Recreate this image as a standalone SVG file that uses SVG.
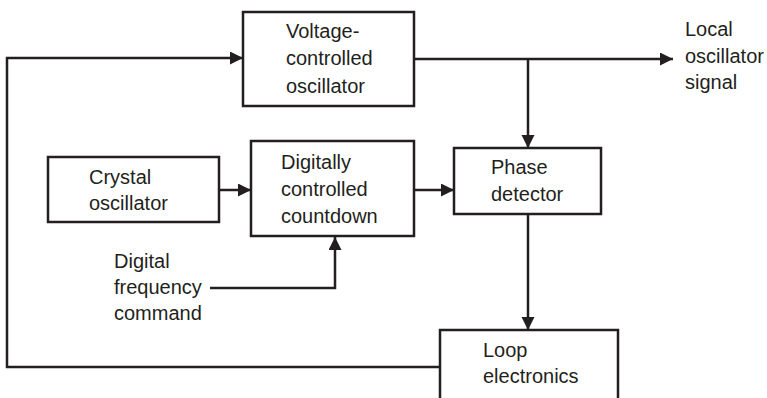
<svg xmlns="http://www.w3.org/2000/svg" width="767" height="398" viewBox="0 0 767 398">
<style>
.box{fill:#fff;stroke:#231f20;stroke-width:2.5}
.ln{fill:none;stroke:#231f20;stroke-width:2.5}
text{font-family:"Liberation Sans",Arial,sans-serif;font-size:20px;fill:#231f20}
</style>
<defs>
<marker id="ah" markerUnits="userSpaceOnUse" markerWidth="14" markerHeight="14" refX="13" refY="6.5" orient="auto">
<path d="M0,0 L13,6.5 L0,13 z" fill="#231f20"/>
</marker>
</defs>
<rect width="767" height="398" fill="#fff"/>
<g id="connectors">
<path class="ln" d="M440,367 H7 V58 H243" marker-end="url(#ah)"/>
<path class="ln" d="M414,59 H673" marker-end="url(#ah)"/>
<path class="ln" d="M528,59 V148" marker-end="url(#ah)"/>
<path class="ln" d="M219,190 H251" marker-end="url(#ah)"/>
<path class="ln" d="M414,190 H454" marker-end="url(#ah)"/>
<path class="ln" d="M210,288 H335 V237" marker-end="url(#ah)"/>
<path class="ln" d="M528,214 V330" marker-end="url(#ah)"/>
</g>
<g id="vco">
<rect class="box" x="243" y="12" width="171" height="94"/>
<text x="286" y="38">Voltage-</text>
<text x="286" y="65">controlled</text>
<text x="286" y="93">oscillator</text>
</g>
<g id="crystal">
<rect class="box" x="48" y="157" width="171" height="65"/>
<text x="89" y="184">Crystal</text>
<text x="89" y="210">oscillator</text>
</g>
<g id="countdown">
<rect class="box" x="251" y="141" width="163" height="95"/>
<text x="281" y="169">Digitally</text>
<text x="281" y="196">controlled</text>
<text x="281" y="223">countdown</text>
</g>
<g id="phase">
<rect class="box" x="454" y="148" width="147" height="66"/>
<text x="491" y="174">Phase</text>
<text x="491" y="201">detector</text>
</g>
<g id="loop">
<rect class="box" x="440" y="330" width="178" height="80"/>
<text x="483" y="357">Loop</text>
<text x="483" y="383">electronics</text>
</g>
<g id="command">
<text x="114" y="268">Digital</text>
<text x="114" y="294">frequency</text>
<text x="114" y="320">command</text>
</g>
<g id="output">
<text x="685" y="36">Local</text>
<text x="685" y="63">oscillator</text>
<text x="685" y="89">signal</text>
</g>
</svg>
